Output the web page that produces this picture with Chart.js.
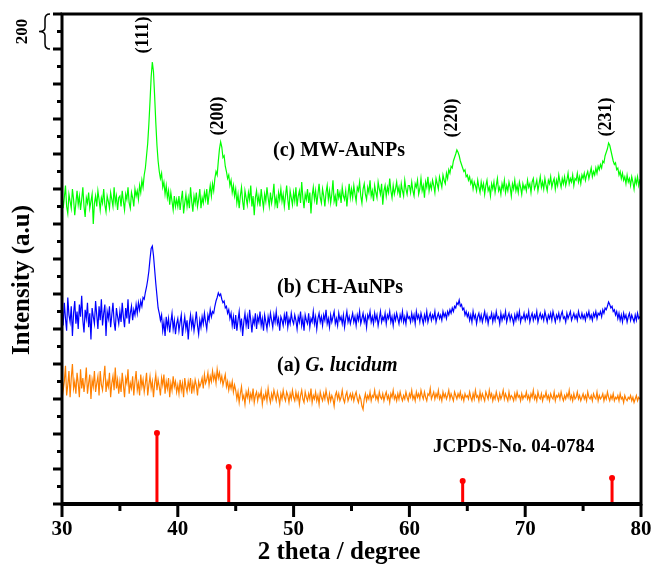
<!DOCTYPE html>
<html>
<head>
<meta charset="utf-8">
<script src="https://cdn.jsdelivr.net/npm/chart.js@4.4.1/dist/chart.umd.min.js"></script>
<style>
  body { margin: 0; background: #fff; }
</style>
</head>
<body>
<canvas id="graph" width="653" height="565"></canvas>
<script>
// scan runs 30..80 deg 2theta in 0.1 deg steps
var angleStart = 30;
var angleStep = 0.1;

// (c) MW-AuNPs, counts (one row = 5 deg)
var mwAuNPs = [
  1780,1690,1750,1820,1700,1660,1770,1730,1690,1800,1740,1650,1720,1790,1710,1760,1680,1740,1810,1700,1640,1750,1720,1780,1690,1730,1770,1600,1720,1760,1700,1790,1740,1680,1750,1720,1800,1710,1670,1760,1730,1690,1780,1740,1700,1810,1720,1760,1680,1750,
  1760,1700,1790,1730,1680,1770,1740,1810,1720,1690,1780,1750,1700,1800,1760,1790,1740,1820,1780,1850,1810,1880,1920,1990,2060,2170,2300,2440,2526,2470,2330,2180,2050,1960,1900,1860,1890,1810,1840,1770,1820,1750,1790,1710,1780,1730,1680,1760,1700,1740,
  1700,1760,1680,1740,1790,1660,1720,1770,1700,1750,1690,1810,1730,1670,1760,1720,1780,1700,1740,1800,1690,1750,1720,1780,1740,1800,1710,1770,1820,1760,1830,1790,1860,1900,1880,1960,2030,2069,2040,1980,1990,1930,1900,1860,1880,1820,1850,1780,1820,1760,
  1800,1720,1770,1690,1760,1810,1730,1680,1790,1750,1710,1780,1740,1820,1700,1760,1650,1750,1790,1720,1760,1700,1800,1740,1690,1770,1730,1810,1750,1700,1780,1720,1760,1830,1710,1750,1690,1780,1740,1800,1730,1770,1700,1760,1820,1740,1680,1790,1750,1710,
  1780,1730,1810,1700,1760,1790,1720,1840,1750,1690,1770,1740,1800,1720,1780,1660,1760,1810,1740,1790,1710,1770,1830,1750,1720,1800,1760,1700,1780,1820,1740,1790,1720,1770,1850,1730,1760,1700,1800,1750,1780,1720,1810,1760,1740,1790,1700,1770,1830,1750,
  1800,1750,1820,1770,1730,1810,1790,1840,1760,1720,1800,1830,1770,1740,1810,1780,1850,1760,1790,1730,1820,1780,1750,1840,1800,1770,1830,1710,1790,1820,1760,1810,1780,1860,1790,1750,1820,1770,1800,1840,1780,1810,1750,1830,1790,1760,1850,1800,1770,1820,
  1820,1780,1840,1790,1760,1830,1810,1850,1770,1800,1860,1790,1820,1750,1840,1810,1870,1790,1830,1800,1850,1820,1780,1860,1830,1800,1870,1840,1810,1880,1850,1830,1890,1860,1910,1890,1930,1920,1960,1980,2000,2023,2010,1990,1960,1940,1920,1900,1910,1870,
  1880,1850,1870,1830,1850,1800,1840,1820,1790,1850,1810,1780,1840,1800,1830,1770,1820,1850,1790,1810,1760,1830,1800,1840,1780,1820,1860,1790,1810,1770,1830,1800,1850,1780,1820,1790,1840,1810,1760,1830,1800,1850,1790,1820,1780,1840,1810,1770,1830,1800,
  1820,1790,1850,1810,1830,1780,1840,1860,1800,1820,1850,1790,1830,1870,1810,1840,1800,1860,1820,1790,1850,1830,1870,1810,1840,1860,1800,1850,1820,1880,1840,1810,1860,1830,1870,1820,1850,1890,1830,1860,1840,1880,1820,1860,1850,1890,1840,1870,1830,1880,
  1860,1890,1850,1880,1900,1860,1890,1920,1870,1900,1880,1920,1890,1930,1910,1940,1920,1960,1950,1990,2010,2030,2063,2050,2020,1990,1960,1940,1950,1910,1920,1880,1900,1860,1890,1850,1870,1830,1880,1840,1860,1820,1870,1840,1800,1860,1830,1870,1820,1850,
  1840
];

// (b) CH-AuNPs
var chAuNPs = [
  1120,1020,1150,1060,990,1180,1080,1040,1130,960,1090,1160,1030,1100,1000,1140,1070,1190,1050,980,1110,1060,1150,1010,1090,940,1120,1070,1030,1160,1080,1000,1130,1050,1170,1020,1090,1140,960,1100,1060,1130,1010,1080,1150,1040,990,1120,1070,1030,
  1100,1040,1150,1070,1010,1120,1060,1170,1030,1090,1130,1050,1110,1080,1140,1090,1150,1110,1160,1130,1180,1170,1210,1240,1280,1330,1400,1460,1474,1420,1340,1260,1190,1120,1090,1050,1080,990,1040,960,1070,1010,1060,980,1040,1090,1000,1050,970,1030,
  1060,990,1040,1080,960,1020,1070,1000,1050,940,1030,1080,1010,1060,990,1040,1100,1020,970,1050,1010,1070,1030,1090,1040,1000,1080,1050,1110,1070,1100,1090,1130,1160,1180,1206,1190,1200,1170,1150,1160,1120,1130,1090,1110,1060,1090,1020,1070,1000,
  1080,990,1050,1100,1010,1060,960,1040,1090,1020,1070,1000,1110,1050,980,1060,1030,1090,1000,1070,1040,1100,1020,1060,990,1080,1040,1000,1070,1030,1090,1050,1010,1080,1040,1100,1030,1060,990,1070,1050,1020,1080,1040,1100,1010,1060,1030,1090,1050,
  1030,1080,1050,1000,1070,1040,1100,1020,1060,990,1080,1050,1030,1090,1010,1060,1040,1100,1030,1070,1000,1060,1090,1040,1070,1020,1080,1050,1110,1030,1060,1010,1080,1040,1070,1100,1030,1060,1020,1090,1050,1070,1030,1080,1010,1060,1100,1040,1070,1030,
  1060,1090,1040,1070,1020,1080,1050,1100,1030,1060,1090,1040,1070,1010,1080,1060,1100,1040,1070,1030,1090,1050,1080,1020,1060,1100,1040,1070,1050,1090,1030,1080,1060,1100,1040,1070,1020,1080,1050,1090,1060,1030,1080,1050,1100,1040,1070,1030,1090,1060,
  1070,1040,1090,1050,1080,1030,1100,1060,1080,1040,1090,1060,1030,1080,1050,1100,1040,1070,1090,1050,1080,1060,1100,1040,1070,1090,1060,1080,1050,1100,1070,1090,1060,1100,1080,1110,1090,1120,1100,1130,1120,1150,1140,1166,1130,1140,1110,1120,1080,1100,
  1070,1090,1050,1080,1040,1100,1060,1080,1030,1070,1090,1050,1080,1040,1070,1100,1050,1080,1030,1070,1060,1090,1040,1080,1050,1100,1060,1070,1030,1090,1050,1080,1060,1100,1040,1070,1090,1050,1080,1060,1030,1080,1050,1090,1060,1100,1040,1070,1060,1090,
  1050,1080,1060,1100,1040,1070,1090,1050,1080,1060,1100,1040,1070,1090,1060,1080,1050,1100,1070,1040,1080,1060,1090,1050,1100,1070,1040,1080,1060,1090,1050,1080,1100,1060,1070,1040,1090,1060,1080,1100,1050,1070,1090,1060,1080,1050,1100,1070,1060,1090,
  1060,1080,1050,1090,1070,1100,1060,1080,1050,1090,1070,1100,1060,1090,1080,1100,1070,1110,1090,1120,1110,1130,1154,1140,1120,1130,1100,1110,1080,1100,1060,1090,1050,1080,1040,1090,1060,1080,1040,1070,1090,1050,1080,1060,1040,1080,1050,1090,1060,1070,
  1050
];

// (a) G. lucidum extract
var gLucidum = [
  740,650,700,790,620,680,760,610,720,800,660,700,630,750,690,610,770,660,720,640,700,780,630,690,740,600,710,670,760,640,690,730,620,760,680,650,720,790,640,700,670,750,610,690,730,650,780,660,710,630,
  700,640,750,680,610,720,690,770,630,690,660,730,620,700,760,650,690,620,740,670,710,640,690,750,620,680,730,660,700,610,690,740,650,710,670,620,720,680,740,630,700,660,720,610,690,650,730,670,700,640,
  680,630,710,650,690,610,720,670,640,700,660,720,630,690,650,710,680,620,700,670,690,720,660,740,690,710,750,680,730,700,760,710,740,690,770,720,750,700,730,680,710,740,670,700,650,690,660,700,640,680,
  650,600,640,580,630,670,600,620,570,640,610,650,590,630,600,660,580,620,640,590,630,610,650,570,620,600,640,590,660,610,580,630,600,650,620,590,640,610,570,630,600,650,610,590,640,620,580,630,600,650,
  610,590,640,600,630,570,620,650,600,580,640,610,590,630,600,660,580,620,600,640,590,620,570,640,610,590,630,600,650,610,580,630,590,620,600,560,620,640,600,630,590,610,650,600,580,620,640,590,610,630,
  600,630,590,620,640,600,580,620,600,560,540,600,630,590,620,600,640,590,620,610,650,600,620,590,640,610,600,630,590,620,640,600,620,580,630,610,650,600,620,590,630,600,640,610,590,620,600,640,610,590,
  630,610,650,600,620,590,640,610,630,600,650,620,600,640,610,590,630,620,660,600,620,640,600,630,610,650,600,620,590,640,610,630,600,620,650,600,630,610,590,640,620,600,630,610,640,600,620,590,630,610,
  620,600,640,610,590,630,600,650,610,620,590,640,600,630,610,590,640,620,600,650,610,630,590,620,600,640,610,590,630,600,620,650,600,630,610,590,640,600,620,610,590,630,600,640,610,620,590,630,600,620,
  610,640,600,620,590,630,610,650,600,620,590,640,610,600,630,590,620,610,640,600,620,590,630,610,600,640,590,620,610,630,600,640,610,590,620,600,630,610,650,600,620,590,630,600,610,640,600,620,590,610,
  630,600,620,590,640,610,600,620,590,630,610,600,640,590,620,600,610,630,590,620,600,640,610,590,620,600,630,590,610,600,620,590,630,600,610,580,620,600,590,610,600,620,590,610,580,600,620,590,610,600,
  600
];

// JCPDS 04-0784 reference lines
var refAngles = [38.2, 44.4, 64.6, 77.5];
var refHeights = [406, 211, 131, 149];

var planeLabels = ['(111)', '(200)', '(220)', '(231)'];
var planeAngles = [37.0, 43.5, 63.7, 77.0];
var planeY = [2680, 2217, 2206, 2211];

var xTicks = [30, 40, 50, 60, 70, 80];

function toPoints(vals) {
  return vals.map(function(v, i) {
    return { x: angleStart + i * angleStep, y: v };
  });
}

var sticks = [];
refAngles.forEach(function(a, i) {
  sticks.push({ x: a, y: 0 });
  sticks.push({ x: a, y: refHeights[i] });
  sticks.push({ x: a, y: null });
});

var serif = '"Liberation Serif", "Times New Roman", serif';

var decor = {
  id: 'decor',
  afterDatasetsDraw: function(chart) {
    var ctx = chart.ctx, a = chart.chartArea;
    var xs = chart.scales.x, ys = chart.scales.y;
    ctx.save();
    ctx.strokeStyle = '#000';
    ctx.fillStyle = '#000';

    // frame
    ctx.lineWidth = 3;
    ctx.strokeRect(a.left, a.top, a.right - a.left, a.bottom - a.top);
    ctx.lineWidth = 4;
    ctx.beginPath();
    ctx.moveTo(a.left - 1, a.bottom);
    ctx.lineTo(a.right + 1, a.bottom);
    ctx.stroke();

    // x ticks, long every 10, short every 5
    ctx.lineWidth = 3;
    for (var v = 30; v <= 80; v += 5) {
      var px = xs.getPixelForValue(v);
      var len = v % 10 === 0 ? 13 : 7;
      ctx.beginPath();
      ctx.moveTo(px, a.bottom);
      ctx.lineTo(px, a.bottom + len);
      ctx.stroke();
    }
    // y ticks
    for (var w = 0; w <= 2800; w += 100) {
      var py = ys.getPixelForValue(w);
      var l2 = w % 200 === 0 ? 9 : 5;
      ctx.beginPath();
      ctx.moveTo(a.left, py);
      ctx.lineTo(a.left - l2, py);
      ctx.stroke();
    }

    // brace marking 200 counts
    var bt = ys.getPixelForValue(2800), bb = ys.getPixelForValue(2600);
    var bm = (bt + bb) / 2;
    ctx.lineWidth = 1.5;
    ctx.beginPath();
    ctx.moveTo(50, bt);
    ctx.quadraticCurveTo(45, bt, 45, bt + 5);
    ctx.lineTo(45, bm - 4);
    ctx.quadraticCurveTo(45, bm, 39, bm);
    ctx.quadraticCurveTo(45, bm, 45, bm + 4);
    ctx.lineTo(45, bb - 5);
    ctx.quadraticCurveTo(45, bb, 50, bb);
    ctx.stroke();

    ctx.textAlign = 'center';
    ctx.textBaseline = 'middle';
    ctx.save();
    ctx.translate(23, bm);
    ctx.rotate(-Math.PI / 2);
    ctx.font = 'bold 17px ' + serif;
    ctx.fillText('200', 0, 0);
    ctx.restore();

    // y title
    ctx.save();
    ctx.translate(23, 280);
    ctx.rotate(-Math.PI / 2);
    ctx.font = 'bold 25px ' + serif;
    ctx.fillText('Intensity (a.u)', 0, 0);
    ctx.restore();

    // x title
    ctx.font = 'bold 25px ' + serif;
    ctx.fillText('2 theta / degree', 339, 553);

    // plane labels
    ctx.font = 'bold 18px ' + serif;
    planeLabels.forEach(function(t, i) {
      ctx.save();
      ctx.translate(xs.getPixelForValue(planeAngles[i]), ys.getPixelForValue(planeY[i]));
      ctx.rotate(-Math.PI / 2);
      ctx.fillText(t, 0, 0);
      ctx.restore();
    });

    // series labels
    ctx.textAlign = 'left';
    ctx.font = 'bold 20px ' + serif;
    ctx.fillText('(c) MW-AuNPs', 273, 151);
    ctx.fillText('(b) CH-AuNPs', 277, 288);
    var pre = '(a) ';
    ctx.fillText(pre, 277, 366);
    var pw = ctx.measureText(pre).width;
    ctx.font = 'italic bold 20px ' + serif;
    ctx.fillText('G. lucidum', 277 + pw, 366);
    ctx.font = 'bold 19px ' + serif;
    ctx.fillText('JCPDS-No. 04-0784', 433, 447);

    ctx.restore();
  }
};

new Chart(document.getElementById('graph'), {
  type: 'line',
  data: {
    datasets: [
      {
        label: 'JCPDS',
        data: sticks,
        borderColor: '#ff0000',
        backgroundColor: '#ff0000',
        borderWidth: 3,
        spanGaps: false,
        pointRadius: function(c) { return c.raw && c.raw.y > 0 ? 3 : 0; },
        pointBorderWidth: 0
      },
      {
        label: '(c) MW-AuNPs',
        data: toPoints(mwAuNPs),
        borderColor: '#00ff00',
        borderWidth: 1.2,
        pointRadius: 0
      },
      {
        label: '(b) CH-AuNPs',
        data: toPoints(chAuNPs),
        borderColor: '#0000ff',
        borderWidth: 1.2,
        pointRadius: 0
      },
      {
        label: '(a) G. lucidum',
        data: toPoints(gLucidum),
        borderColor: '#ff8000',
        borderWidth: 1.2,
        pointRadius: 0
      }
    ]
  },
  options: {
    responsive: false,
    animation: false,
    devicePixelRatio: 1,
    layout: { padding: { left: 0, right: 12, top: 14, bottom: 0 } },
    plugins: {
      legend: { display: false },
      tooltip: { enabled: false }
    },
    scales: {
      x: {
        type: 'linear',
        min: 30,
        max: 80,
        afterFit: function(s) {
          s.height = 61;
          s.paddingLeft = 0;
          s.paddingRight = 0;
        },
        afterBuildTicks: function(s) { s.ticks = xTicks.map(function(v) { return { value: v }; }); },
        border: { display: false },
        grid: { display: true, drawOnChartArea: false, drawTicks: false },
        ticks: {
          padding: 13,
          color: '#000',
          maxRotation: 0,
          font: { family: serif, size: 21, weight: 'bold' }
        }
      },
      y: {
        min: 0,
        max: 2800,
        afterFit: function(s) { s.width = 62; },
        border: { display: false },
        grid: { display: false },
        ticks: { display: false }
      }
    }
  },
  plugins: [decor]
});
</script>
</body>
</html>
